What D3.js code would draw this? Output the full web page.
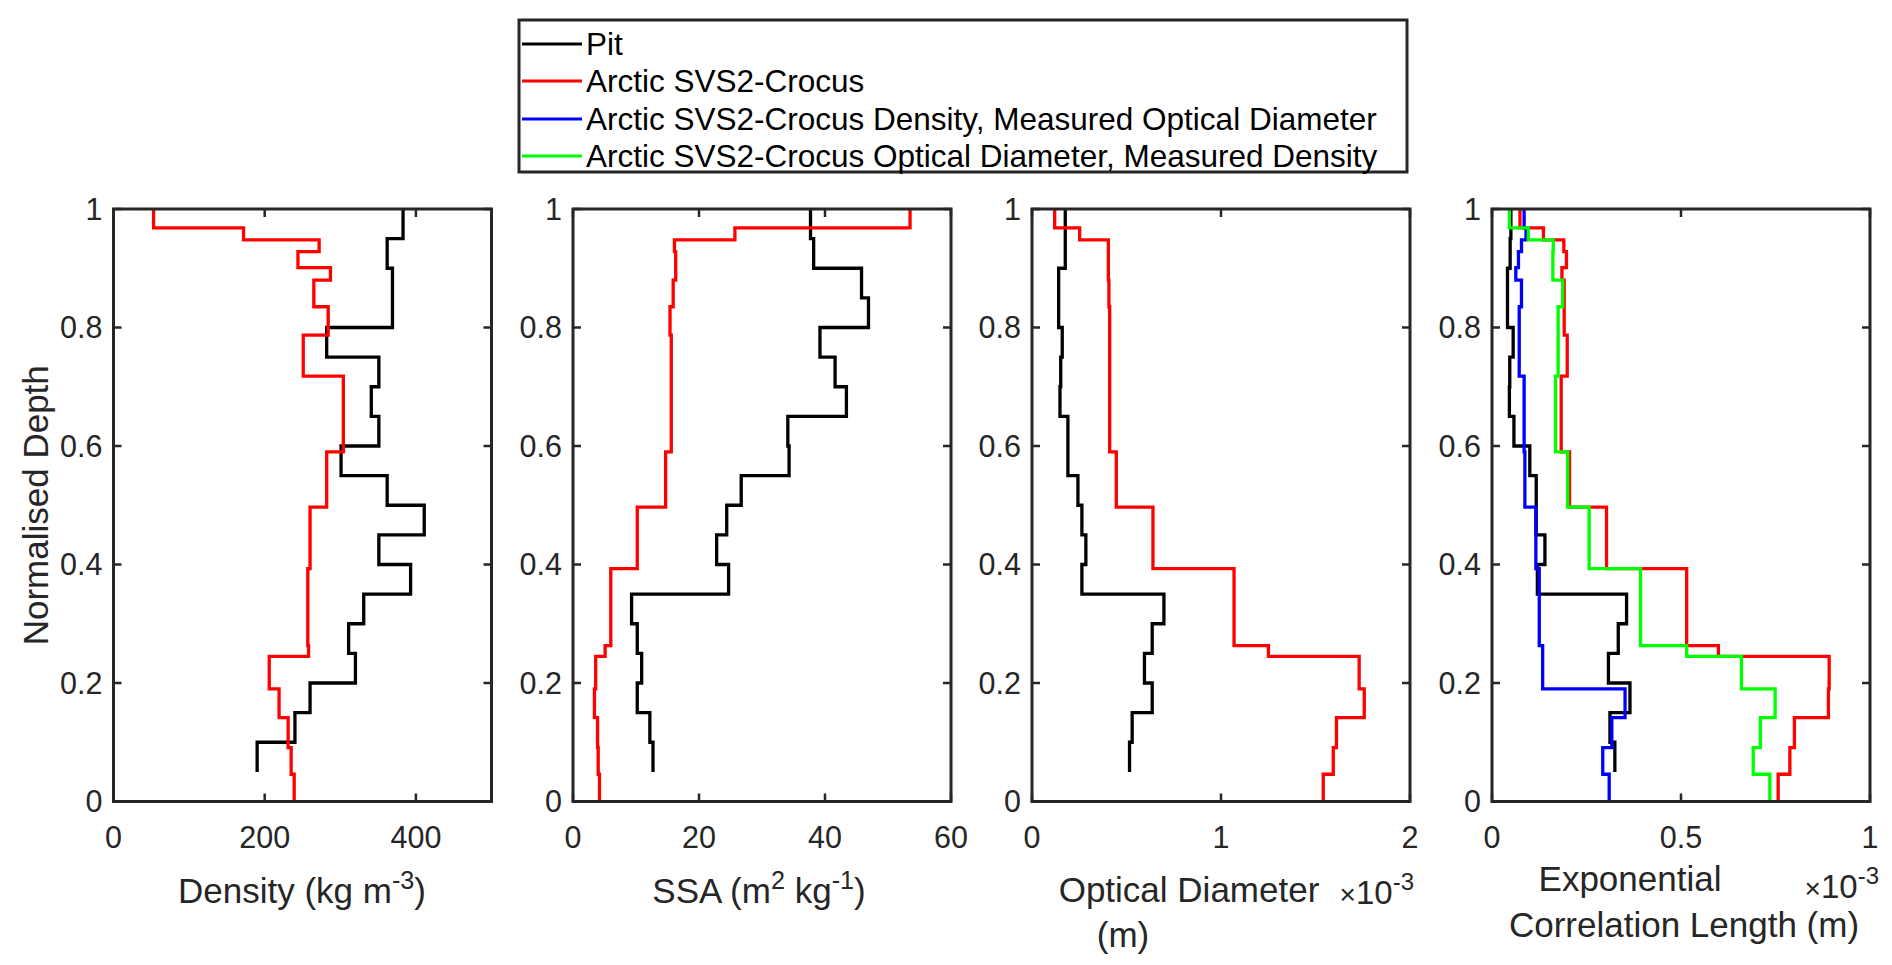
<!DOCTYPE html>
<html>
<head>
<meta charset="utf-8">
<script src="https://cdn.jsdelivr.net/npm/d3@7/dist/d3.min.js"></script>
<style>
  html, body { margin: 0; padding: 0; background: #fff; }
  svg { display: block; font-family: "Liberation Sans", Arial, Helvetica, sans-serif; }
</style>
</head>
<body>
<svg id="chart" width="1892" height="965"></svg>
<script>
// ---------- DATA ----------
// Layer boundaries (normalised depth)
const pitDepth = [1, 0.95, 0.9, 0.85, 0.8, 0.75, 0.7, 0.65, 0.6, 0.55, 0.5, 0.45, 0.4, 0.35, 0.3, 0.25, 0.2, 0.15, 0.1, 0.05];
const modelDepth = [1, 0.968, 0.948, 0.928, 0.901, 0.880, 0.835, 0.787, 0.718, 0.590, 0.497, 0.393, 0.263, 0.245, 0.190, 0.1415, 0.091, 0.046, 0];

// Density (kg m-3)
const pitDensity = [383, 362, 369, 369, 282, 351, 341, 351, 301, 362, 411, 351, 393, 331, 311, 320, 260, 240, 190];
const modelDensity = [53, 172, 272, 244, 287, 265, 284, 251, 304, 282, 260, 257, 258, 206, 219, 231, 235, 239];

// SSA (m2 kg-1)
const pitSSA = [37.7, 38.2, 45.8, 46.9, 39.2, 41.6, 43.4, 34.1, 34.3, 26.7, 24.4, 22.8, 24.7, 9.3, 10.2, 10.9, 10.2, 12.2, 12.7];
const modelSSA = [53.5, 25.7, 16.1, 16.3, 16.3, 15.9, 15.4, 15.6, 15.6, 14.7, 10.2, 6.0, 5.1, 3.6, 3.4, 3.9, 4.0, 4.2];

// Optical diameter (x1e-3 m)
const pitOD = [0.176, 0.176, 0.141, 0.141, 0.160, 0.152, 0.148, 0.190, 0.190, 0.243, 0.264, 0.285, 0.264, 0.698, 0.636, 0.595, 0.636, 0.530, 0.516];
const modelOD = [0.120, 0.252, 0.404, 0.404, 0.404, 0.407, 0.411, 0.411, 0.411, 0.446, 0.640, 1.069, 1.251, 1.731, 1.758, 1.611, 1.594, 1.541];

// Exponential correlation length (x1e-3 m)
const pitECL = [0.050, 0.048, 0.041, 0.041, 0.056, 0.047, 0.046, 0.058, 0.100, 0.117, 0.117, 0.140, 0.120, 0.356, 0.334, 0.308, 0.365, 0.312, 0.325];
const modelECL = [0.074, 0.136, 0.190, 0.197, 0.185, 0.191, 0.191, 0.199, 0.183, 0.205, 0.303, 0.515, 0.599, 0.892, 0.890, 0.800, 0.788, 0.757];
const modelDensMeasOD_ECL = [0.085, 0.090, 0.078, 0.070, 0.063, 0.078, 0.072, 0.072, 0.085, 0.087, 0.116, 0.125, 0.134, 0.134, 0.352, 0.317, 0.293, 0.310];
const modelODMeasDens_ECL = [0.046, 0.096, 0.162, 0.161, 0.161, 0.187, 0.175, 0.175, 0.168, 0.200, 0.257, 0.393, 0.515, 0.660, 0.749, 0.710, 0.691, 0.735];

// Axis ranges and ticks
const xDomains = [[0, 500], [0, 60], [0, 2], [0, 1]];
const xTicks = [[0, 200, 400], [0, 20, 40, 60], [0, 1, 2], [0, 0.5, 1]];
const yTicks = [0, 0.2, 0.4, 0.6, 0.8, 1];

const legendLabels = ["Pit", "Arctic SVS2-Crocus",
  "Arctic SVS2-Crocus Density, Measured Optical Diameter",
  "Arctic SVS2-Crocus Optical Diameter, Measured Density"];
const legendColors = ["#000000", "#ff0000", "#0000ff", "#00ff00"];

// ---------- LAYOUT ----------
const svg = d3.select("#chart");
const axisColor = "#262626";
const panelLeft = [113.5, 573, 1032, 1492];
const panelW = 378;
const yTop = 209, yBottom = 801.5;
const tickFont = 30.5, labelFont = 35, legendFont = 31.5;

const y = d3.scaleLinear().domain([0, 1]).range([yBottom, yTop]);

function stairs(depths, vals) {
  const pts = [];
  vals.forEach((v, i) => { pts.push([v, depths[i]]); pts.push([v, depths[i + 1]]); });
  return pts;
}

const panels = [
  { series: [[pitDepth, pitDensity, "#000"], [modelDepth, modelDensity, "#ff0000"]] },
  { series: [[pitDepth, pitSSA, "#000"], [modelDepth, modelSSA, "#ff0000"]] },
  { series: [[pitDepth, pitOD, "#000"], [modelDepth, modelOD, "#ff0000"]] },
  { series: [[pitDepth, pitECL, "#000"], [modelDepth, modelECL, "#ff0000"],
             [modelDepth, modelDensMeasOD_ECL, "#0000ff"], [modelDepth, modelODMeasDens_ECL, "#00ff00"]] }
];

panels.forEach((p, k) => {
  const x = d3.scaleLinear().domain(xDomains[k]).range([panelLeft[k], panelLeft[k] + panelW]);
  const g = svg.append("g");
  const line = d3.line().x(d => x(d[0])).y(d => y(d[1]));

  p.series.forEach(([dep, vals, col]) => {
    g.append("path").attr("d", line(stairs(dep, vals)))
      .attr("fill", "none").attr("stroke", col).attr("stroke-width", 3.3)
      .attr("stroke-linejoin", "miter").attr("stroke-linecap", "butt");
  });

  // ticks (inward) on all four sides
  const tl = 8;
  xTicks[k].forEach(t => {
    const xx = x(t);
    g.append("line").attr("x1", xx).attr("x2", xx).attr("y1", yBottom).attr("y2", yBottom - tl)
      .attr("stroke", axisColor).attr("stroke-width", 2.5);
    g.append("line").attr("x1", xx).attr("x2", xx).attr("y1", yTop).attr("y2", yTop + tl)
      .attr("stroke", axisColor).attr("stroke-width", 2.5);
    g.append("text").attr("x", xx).attr("y", 848).attr("text-anchor", "middle")
      .attr("font-size", tickFont).attr("fill", axisColor).text(d3.format("~g")(t));
  });
  yTicks.forEach(t => {
    const yy = y(t);
    g.append("line").attr("x1", panelLeft[k]).attr("x2", panelLeft[k] + tl).attr("y1", yy).attr("y2", yy)
      .attr("stroke", axisColor).attr("stroke-width", 2.5);
    g.append("line").attr("x1", panelLeft[k] + panelW).attr("x2", panelLeft[k] + panelW - tl).attr("y1", yy).attr("y2", yy)
      .attr("stroke", axisColor).attr("stroke-width", 2.5);
    g.append("text").attr("x", panelLeft[k] - 11).attr("y", yy).attr("dy", "0.36em")
      .attr("text-anchor", "end").attr("font-size", tickFont).attr("fill", axisColor)
      .text(d3.format("~g")(t));
  });

  // box
  g.append("rect").attr("x", panelLeft[k]).attr("y", yTop).attr("width", panelW).attr("height", yBottom - yTop)
    .attr("fill", "none").attr("stroke", axisColor).attr("stroke-width", 3);
});

// ---------- AXIS LABELS ----------
function label(xc, yb, parts, anchor) {
  const t = svg.append("text").attr("x", xc).attr("y", yb).attr("text-anchor", anchor || "middle")
    .attr("font-size", labelFont).attr("fill", axisColor);
  parts.forEach(([s, sup]) => {
    const ts = t.append("tspan").text(s);
    if (sup) ts.attr("font-size", labelFont * 0.72).attr("dy", -14);
    else if (sup === false) ts.attr("dy", 14);
  });
  return t;
}
label(302, 903, [["Density (kg m"], ["-3", true], [")", false]]);
label(759, 903, [["SSA (m"], ["2", true], [" kg", false], ["-1", true], [")", false]]);
label(1189, 902, [["Optical Diameter"]]);
label(1123, 947, [["(m)"]]);
label(1630, 891, [["Exponential"]]);
label(1684, 937, [["Correlation Length (m)"]]);

function exponent(xr, yb) {
  const t = svg.append("text").attr("x", xr).attr("y", yb).attr("text-anchor", "end")
    .attr("font-size", 33).attr("fill", axisColor);
  t.append("tspan").text("\u00d7").attr("font-size", 28);
  t.append("tspan").text("10");
  t.append("tspan").text("-3").attr("font-size", 24).attr("dy", -14);
}
exponent(1414, 904);
exponent(1879, 898);

svg.append("text").attr("transform", "translate(48," + ((yTop + yBottom) / 2) + ") rotate(-90)")
  .attr("text-anchor", "middle").attr("font-size", labelFont).attr("fill", axisColor)
  .text("Normalised Depth");

// ---------- LEGEND ----------
const lg = svg.append("g");
lg.append("rect").attr("x", 519).attr("y", 20).attr("width", 888).attr("height", 152)
  .attr("fill", "#fff").attr("stroke", axisColor).attr("stroke-width", 3);
const rowY = [44, 81, 119, 156];
legendLabels.forEach((s, i) => {
  lg.append("line").attr("x1", 522).attr("x2", 582).attr("y1", rowY[i]).attr("y2", rowY[i])
    .attr("stroke", legendColors[i]).attr("stroke-width", 3);
  lg.append("text").attr("x", 586).attr("y", rowY[i]).attr("dy", "0.36em")
    .attr("font-size", legendFont).attr("fill", "#000").text(s);
});
</script>
</body>
</html>
